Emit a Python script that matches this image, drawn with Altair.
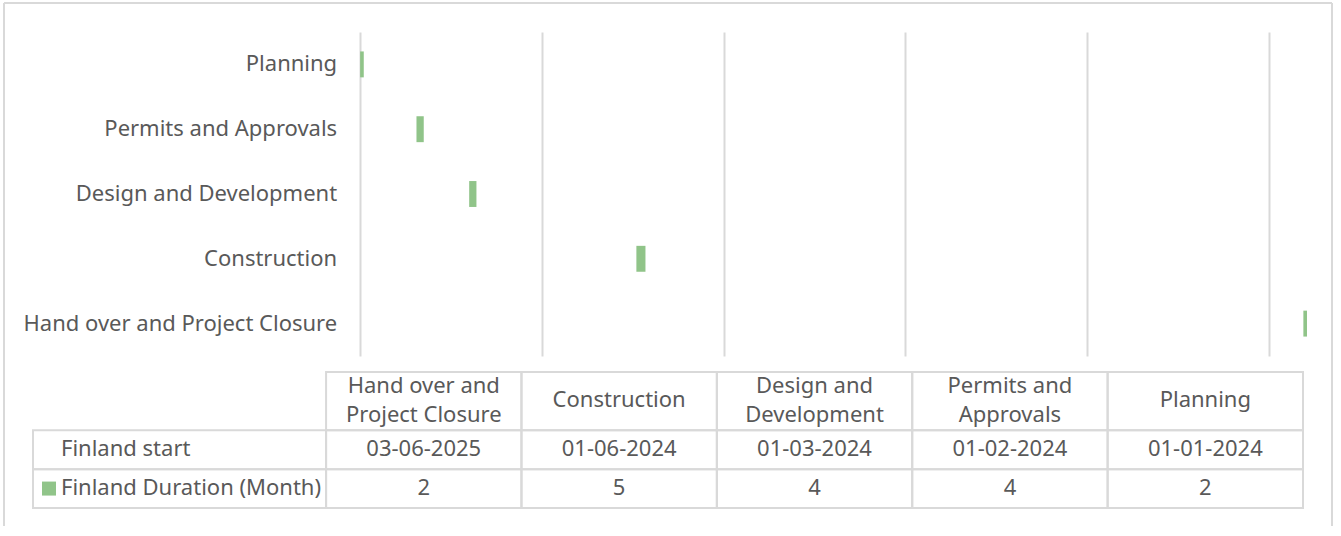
import altair as alt
import pandas as pd

# ---- data ----
tasks = ["Planning", "Permits and Approvals", "Design and Development",
         "Construction", "Hand over and Project Closure"]
starts = ["01-01-2024", "01-02-2024", "01-03-2024", "01-06-2024", "03-06-2025"]
durations = [2, 4, 4, 5, 2]

table_headers = ["Hand over and\nProject Closure", "Construction",
                 "Design and\nDevelopment", "Permits and\nApprovals", "Planning"]
row_labels = ["Finland start", "Finland Duration (Month)"]

GREEN = "#90C489"
GRAY = "#D9D9D9"
TEXT = "#595959"
FONT = "Noto Sans"
FS = 22

# Excel-like serial numbers for the date axis
epoch = pd.Timestamp("1899-12-30")
serial = [(pd.to_datetime(s, format="%d-%m-%Y") - epoch).days for s in starts]
gantt_df = pd.DataFrame({
    "task": tasks,
    "start": serial,
    "end": [s + d for s, d in zip(serial, durations)],
    "duration": durations,
})
first = min(serial)
grid_vals = [first + 100 * k for k in range(6)]

xscale = alt.Scale(domain=[45112, 45813], nice=False, zero=False)
yscale = alt.Scale(domain=tasks, paddingInner=0.6, paddingOuter=0.3)

base = alt.Chart(gantt_df)
bars = base.mark_bar(color=GREEN).encode(
    x=alt.X("start:Q", scale=xscale,
            axis=alt.Axis(values=grid_vals, grid=True, gridColor=GRAY, gridWidth=2,
                          labels=False, ticks=False, domain=False, title=None)),
    x2="end:Q",
    y=alt.Y("task:N", sort=tasks, scale=yscale, axis=None),
)
labels = base.mark_text(align="right", baseline="middle", dx=-23,
                        font=FONT, fontSize=FS, color=TEXT).encode(
    x=alt.datum(first),
    y=alt.Y("task:N", sort=tasks, scale=yscale, axis=None),
    text="task:N",
)

frame_df = pd.DataFrame({"k": [0]})
frame = alt.Chart(frame_df)
left_edge = frame.mark_rule(color=GRAY, strokeWidth=2).encode(
    x=alt.value(-29), y=alt.value(-29), y2=alt.value(494))
right_edge = frame.mark_rule(color=GRAY, strokeWidth=2).encode(
    x=alt.value(1299), y=alt.value(-29), y2=alt.value(494))
top_edge = frame.mark_rule(color=GRAY, strokeWidth=2).encode(
    x=alt.value(-29), x2=alt.value(1299), y=alt.value(-29))

gantt = alt.layer(bars, labels, left_edge, right_edge, top_edge).properties(
    width=1274, height=324)

# ---- data table ----
TABLE_H = 136
n = len(table_headers)
row_span = {"header": (0.0, 1.5), "start": (1.5, 2.5), "dur": (2.5, 3.5)}
unit_px = TABLE_H / 3.5
line_units = 29 / unit_px
col_tasks = tasks[::-1]
col_start = [starts[tasks.index(t)] for t in col_tasks]
col_dur = [durations[tasks.index(t)] for t in col_tasks]

cells = []
for i in range(n):
    for r in ("header", "start", "dur"):
        y0, y1 = row_span[r]
        cells.append({"x0": i, "x1": i + 1, "y0": y0, "y1": y1})
for r in ("start", "dur"):
    y0, y1 = row_span[r]
    cells.append({"x0": -1.5, "x1": 0, "y0": y0, "y1": y1})
cells_df = pd.DataFrame(cells)

texts = []
hc = sum(row_span["header"]) / 2
for i in range(n):
    parts = table_headers[i].split("\n")
    k = len(parts)
    for j, p in enumerate(parts):
        texts.append({"x": i + 0.5, "y": hc + (j - (k - 1) / 2) * line_units, "t": p})
    texts.append({"x": i + 0.5, "y": sum(row_span["start"]) / 2, "t": col_start[i]})
    texts.append({"x": i + 0.5, "y": sum(row_span["dur"]) / 2, "t": str(col_dur[i])})
texts_df = pd.DataFrame(texts)

rl_df = pd.DataFrame({
    "x": [-1.5, -1.5],
    "y": [sum(row_span["start"]) / 2, sum(row_span["dur"]) / 2],
    "t": row_labels,
})
legend_df = rl_df.iloc[[1]]

tx = alt.Scale(domain=[-1.5, n], nice=False, zero=False)
ty = alt.Scale(domain=[0, 3.5], nice=False, zero=False, reverse=True)

cell_rects = alt.Chart(cells_df).mark_rect(filled=False, stroke=GRAY, strokeWidth=2).encode(
    x=alt.X("x0:Q", scale=tx, axis=None), x2="x1:Q",
    y=alt.Y("y0:Q", scale=ty, axis=None), y2="y1:Q",
)
cell_text = alt.Chart(texts_df).mark_text(
    align="center", baseline="middle", dy=-1,
    font=FONT, fontSize=FS, color=TEXT).encode(
    x=alt.X("x:Q", scale=tx, axis=None),
    y=alt.Y("y:Q", scale=ty, axis=None),
    text="t:N",
)
row_text = alt.Chart(rl_df).mark_text(
    align="left", baseline="middle", dx=28, dy=-1,
    font=FONT, fontSize=FS, color=TEXT).encode(
    x=alt.X("x:Q", scale=tx, axis=None),
    y=alt.Y("y:Q", scale=ty, axis=None),
    text="t:N",
)
legend_sq = alt.Chart(legend_df).mark_square(size=196, opacity=1, color=GREEN, xOffset=16).encode(
    x=alt.X("x:Q", scale=tx, axis=None),
    y=alt.Y("y:Q", scale=ty, axis=None),
)

table = alt.layer(cell_rects, cell_text, row_text, legend_sq).properties(
    width=1270, height=TABLE_H)

chart = alt.vconcat(gantt, table, spacing=16, bounds="flush").properties(
    padding={"left": 3, "top": 2, "right": 5, "bottom": 0}
).configure_view(stroke=None)

chart.save("out.html", embed_options={"renderer": "svg", "actions": False})
